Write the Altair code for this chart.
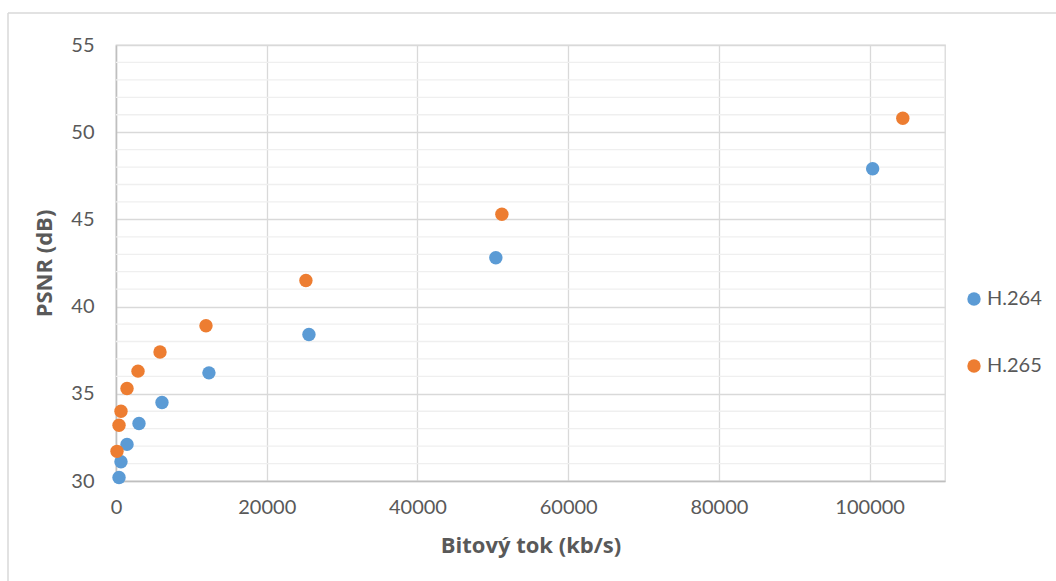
import altair as alt
import pandas as pd

h264_x = [400, 660, 1460, 3050, 6100, 12330, 25600, 50400, 100400]
h264_y = [30.2, 31.1, 32.1, 33.3, 34.5, 36.2, 38.4, 42.8, 47.9]
h265_x = [130, 400, 660, 1460, 2920, 5840, 11940, 25200, 51200, 104400]
h265_y = [31.7, 33.2, 34.0, 35.3, 36.3, 37.4, 38.9, 41.5, 45.3, 50.8]
series = ["H.264", "H.265"]
colors = ["#5B9BD5", "#ED7D31"]
minor_y = [v for v in range(31, 55) if v % 5 != 0]

rows = [{"x": x, "y": y, "s": "H.264"} for x, y in zip(h264_x, h264_y)]
rows += [{"x": x, "y": y, "s": "H.265"} for x, y in zip(h265_x, h265_y)]
df = pd.DataFrame(rows)
df["o"] = df["s"].map({"H.264": 0, "H.265": 1})

FONT = "Lato"
TFONT = "Open Sans"
xs = alt.Scale(domain=[0, 110000], nice=False)
ys = alt.Scale(domain=[30, 55], nice=False)

minor = alt.Chart(pd.DataFrame({"v": minor_y})).mark_rule(
    color="#efefef", strokeWidth=1.3
).encode(y=alt.Y("v:Q", scale=ys))

pts = alt.Chart(df).mark_circle(size=180, opacity=1).encode(
    x=alt.X("x:Q", scale=xs,
            axis=alt.Axis(title="Bitový tok (kb/s)", values=[0, 20000, 40000, 60000, 80000, 100000],
                          format="d", grid=True, gridColor="#d9d9d9", gridWidth=1.3,
                          domainColor="#bfbfbf", domainWidth=1.5, ticks=False,
                          labelFlush=False,
                          labelPadding=16, titlePadding=18,
                          labelFont=FONT, labelFontSize=20, labelColor="#595959",
                          titleFont=TFONT, titleFontSize=22, titleFontWeight="bold",
                          titleColor="#595959")),
    y=alt.Y("y:Q", scale=ys,
            axis=alt.Axis(title="PSNR (dB)", values=[30, 35, 40, 45, 50, 55],
                          grid=True, gridColor="#d9d9d9", gridWidth=1.3,
                          domainColor="#bfbfbf", domainWidth=1.5, ticks=False,
                          labelPadding=22, titlePadding=14,
                          labelFont=FONT, labelFontSize=20, labelColor="#595959",
                          titleFont=TFONT, titleFontSize=22, titleFontWeight="bold",
                          titleColor="#595959")),
    color=alt.Color("s:N", scale=alt.Scale(domain=series, range=colors),
                    legend=alt.Legend(title=None, orient="none", legendX=848, legendY=244,
                                      symbolType="circle", symbolSize=180, symbolStrokeWidth=0,
                                      rowPadding=47, labelFontSize=20, labelFont=FONT,
                                      labelColor="#595959", labelOffset=3)),
    order=alt.Order("o:Q"),
)

border_l = alt.Chart(pd.DataFrame({"a": [0]})).mark_rule(color="#d9d9d9", strokeWidth=1.5).encode(
    x=alt.value(-108), y=alt.value(-32), y2=alt.value(560))
border_t = alt.Chart(pd.DataFrame({"a": [0]})).mark_rule(color="#d9d9d9", strokeWidth=1.5).encode(
    x=alt.value(-108), x2=alt.value(960), y=alt.value(-32))

chart = alt.layer(minor, pts, border_l, border_t).properties(
    width=829, height=436,
    background="white",
    autosize=alt.AutoSizeParams(type="none"),
    padding={"left": 116, "top": 45, "right": 111, "bottom": 100},
).configure_view(stroke="#d9d9d9", strokeWidth=1.3)

chart.save("out.html", embed_options={"renderer": "svg", "actions": False})
